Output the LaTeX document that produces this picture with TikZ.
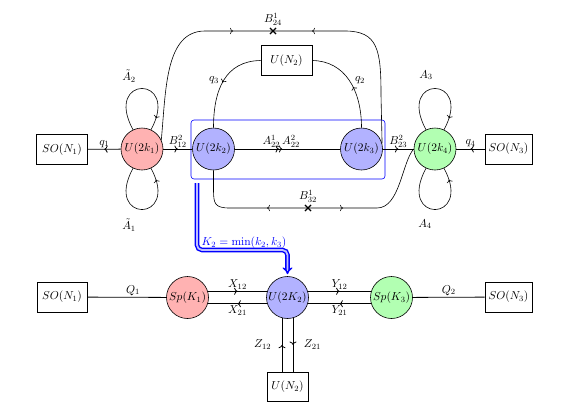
\RequirePackage{fix-cm}
\documentclass[tikz,border=0pt]{standalone}
\usetikzlibrary{arrows.meta,decorations.markings,shapes.misc}
\begin{document}
\begin{tikzpicture}[x=1pt,y=-1pt,
  every node/.style={font=\fontsize{11.5}{13}\selectfont},
  gnode/.style={circle,draw,line width=0.6pt,minimum size=42pt,inner sep=0pt},
  fnode/.style={rectangle,draw,line width=0.6pt,minimum height=30pt,inner sep=2pt},
  ln/.style={line width=0.8pt},
  cv/.style={line width=0.6pt},
  lab/.style={inner sep=1.5pt},
  am/.style={decoration={markings,mark=at position #1 with {\arrow{>}}},postaction={decorate}},
  am/.default=0.5,
  amm/.style={decoration={markings,mark=at position #1 with {\arrow{>>}}},postaction={decorate}},
  xmark/.style={cross out,draw,line width=1.1pt,minimum size=5pt,inner sep=0pt},
  bluearrow/.style={draw=blue,line width=1.4pt,double=blue!25,double distance=1.8pt,rounded corners=5pt,-{Implies[scale=1.3]}}
]
\path[fill=white,use as bounding box] (0,0) rectangle (570,410);

% ---------- top quiver ----------
\draw[blue,line width=0.6pt,rounded corners=3pt] (191,120) rectangle (385,179);

\node[gnode,fill=red!30]   (u1) at (142,149)   {$U(2k_1)$};
\node[gnode,fill=blue!30]  (u2) at (213.5,149) {$U(2k_2)$};
\node[gnode,fill=blue!30]  (u3) at (361.5,149) {$U(2k_3)$};
\node[gnode,fill=green!30] (u4) at (435,149)   {$U(2k_4)$};
\node[fnode,minimum width=51pt] (so1) at (62,149.5)  {$SO(N_1)$};
\node[fnode,minimum width=47pt] (so3) at (508.5,149) {$SO(N_3)$};
\node[fnode,minimum width=51pt] (n2t) at (286.5,60.5) {$U(N_2)$};

\node[xmark] (c24) at (273,31) {};
\node[xmark] (c32) at (308,208) {};
\node at (273,19) {$B^1_{24}$};
\node at (308,196) {$B^1_{32}$};

% straight edges
\draw[ln,am] (u1) -- (so1) node[midway,above,lab] {$q_1$};
\draw[ln,am] (u1) -- (u2) node[midway,above,lab] {$B^2_{12}$};
\draw[ln,amm=0.45] (u2) -- (u3) node[pos=0.44,above,lab] {$A^1_{22}\,A^2_{22}$};
\draw[ln,am] (u3) -- (u4) node[midway,above,lab] {$B^2_{23}$};
\draw[ln,am] (so3) -- (u4) node[midway,above,lab] {$q_4$};

% long curved edges
\draw[cv,am=-40pt] (u1.25) .. controls (166,90) and (165,31) .. (205,31) -- (c24.center);
\draw[cv,am=-39pt] (u3.15) -- (381,95) .. controls (381,50) and (378,31) .. (345,31) -- (c24.center);
\draw[cv,am=41pt] (c32.center) -- (230,208) .. controls (215,208) and (213.5,204) .. (213.5,190) -- (u2.south);
\draw[cv,am=35pt] (c32.center) -- (377,208) .. controls (400,208) and (402,162) .. (u4.west);

% flavour lines to U(N2)
\draw[cv,am=0.5] (n2t.west) .. controls (225,61) and (213.5,90) .. (u2.north);
\draw[cv,am=0.45] (u3.north) .. controls (361.5,90) and (345,61) .. (n2t.east);
\node at (214,80) {$q_3$};
\node at (360,80) {$q_2$};

% loops
\draw[cv,am=0.88] (u1.115) .. controls +(-30,-55) and +(30,-55) .. (u1.65);
\draw[cv,am=0.88] (u1.-115) .. controls +(-30,55) and +(30,55) .. (u1.-65);
\draw[cv,am=0.88] (u4.115) .. controls +(-30,-55) and +(30,-55) .. (u4.65);
\draw[cv,am=0.88] (u4.-115) .. controls +(-30,55) and +(30,55) .. (u4.-65);
\node at (129,76)  {$\tilde A_2$};
\node at (129,225) {$\tilde A_1$};
\node at (426,75)  {$A_3$};
\node at (425,224) {$A_4$};

% ---------- bottom quiver ----------
\node[gnode,fill=red!30]   (s1) at (187.5,297.5) {$Sp(K_1)$};
\node[gnode,fill=blue!30]  (v2) at (287.5,297.5) {$U(2K_2)$};
\node[gnode,fill=green!30] (s3) at (391.5,297.5) {$Sp(K_3)$};
\node[fnode,minimum width=50pt] (so1b) at (62,297)    {$SO(N_1)$};
\node[fnode,minimum width=47pt] (so3b) at (508.5,297) {$SO(N_3)$};
\node[fnode,minimum width=41pt,minimum height=29pt] (n2b) at (287.5,386.5) {$U(N_2)$};

\draw[ln] (so1b) -- (s1) node[pos=0.58,above,lab] {$Q_1$};
\draw[ln] (s3) -- (so3b) node[midway,above,lab] {$Q_2$};
\draw[ln,am] (s1.17) -- (v2.163) node[midway,above,lab] {$X_{12}$};
\draw[ln,am] (v2.-163) -- (s1.-17) node[midway,below,lab] {$X_{21}$};
\draw[ln,am] (v2.17) -- (s3.163) node[midway,above,lab] {$Y_{12}$};
\draw[ln,am] (s3.-163) -- (v2.-17) node[midway,below,lab] {$Y_{21}$};
\draw[ln,am] (n2b.north -| v2.-105) -- (v2.-105) node[midway,left=9pt,lab] {$Z_{12}$};
\draw[ln,am] (v2.-75) -- (n2b.north -| v2.-75) node[midway,right=9pt,lab] {$Z_{21}$};

% ---------- blue arrow ----------
\coordinate (bs) at (197,183);
\coordinate (bc) at (287.5,250);
\draw[bluearrow,shorten >=2pt] (bs) |- (bc) -- (v2.north);
\node[text=blue] at (244,243) {$K_2 = \min(k_2,k_3)$};
\end{tikzpicture}
\end{document}
